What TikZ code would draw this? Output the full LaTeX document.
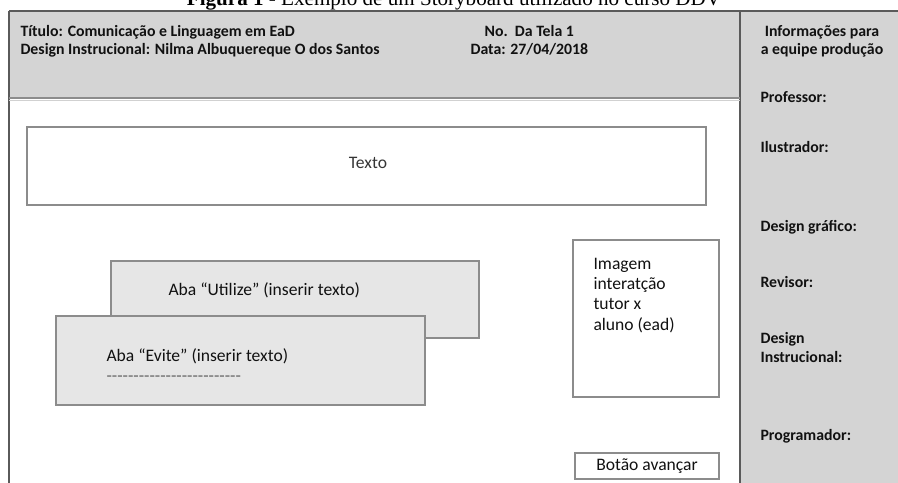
\documentclass[tikz,border=0pt]{standalone}
\usepackage{fontspec}
\setmainfont{Carlito}
\newfontfamily\capfont{Liberation Serif}
\usetikzlibrary{positioning}
\usepackage{xcolor}
\definecolor{panel}{HTML}{D4D4D4}
\definecolor{tabfill}{HTML}{E6E6E6}
\definecolor{edge}{HTML}{8C8C8C}
\definecolor{frame}{HTML}{5A5A5A}
\definecolor{ink}{HTML}{111111}
\newcommand{\Wd}{898}
\newcommand{\Ht}{483}
\newcommand{\Top}{11}
\newcommand{\Hb}{98}
\newcommand{\Col}{740}
\newcommand{\dashrow}{\foreach \k in {1,...,25}{\mbox{-}}}
\tikzset{
  lbl/.style={font=\fontsize{10}{12}\selectfont, inner sep=0pt, text=ink},
  hdr/.style={lbl, font=\fontsize{9}{10.3}\selectfont\bfseries, align=left},
  boxline/.style={draw=edge, line width=0.6pt}
}

\begin{document}
\begin{tikzpicture}[x=0.2mm, y=-0.2mm, line width=0.6pt]
\useasboundingbox (0,0) rectangle (\Wd,\Ht);
\clip (0,0) rectangle (\Wd,\Ht);
% ---- caption, cut at the top edge
\node[anchor=base, inner sep=0pt, font=\capfont\fontsize{12}{14}\selectfont] (cap) at (454,6)
  {\textbf{Figura 1} - Exemplo de um Storyboard utilizado no curso DDV};
% ---- header strip and right column
\fill[panel] (9,\Top) rectangle (\Col,\Hb);
\fill[panel] (\Col,\Top) rectangle (\Wd+5,\Ht+5);
\draw[frame] (9,\Top) -- (\Wd+5,\Top);
\draw[frame] (9,\Top) -- (9,\Ht+5);
\draw[frame] (\Col,\Top) -- (\Col,\Ht+5);
\draw[edge, line width=1.1pt] (9,\Hb) -- (\Col,\Hb);
\draw[edge!40, line width=0.6pt] (9,\Hb+2.5) -- (\Col,\Hb+2.5);
% two-line nodes: the base anchor sits on the last line
\node[hdr, anchor=base west] (title) at (20,55)
  {Título: Comunicação e Linguagem em EaD\\Design Instrucional: Nilma Albuquereque O dos Santos};
\node[hdr, anchor=base west] (tela) at (470,55)
  {\hspace*{8pt}No.\ \ Da Tela 1\\Data: 27/04/2018};
% ---- production team column
\node[hdr, align=center, anchor=base] (info) at (822,55) {Informações para\\a equipe produção};
\node[hdr, anchor=base west] (prof) at (760,103) {Professor:};
\node[hdr, anchor=base west] (ilus) at (760,153) {Ilustrador:};
\node[hdr, anchor=base west] (graf) at (760,231) {Design gráfico:};
\node[hdr, anchor=base west] (rev)  at (760,287) {Revisor:};
\node[hdr, anchor=base west] (di)   at (760,362) {Design\\Instrucional:};
\node[hdr, anchor=base west] (prog) at (760,440) {Programador:};
% ---- screen content
\draw[boxline] (27,127) rectangle (706,205);
\node[lbl, text=ink!85] (texto) at (368,163) {Texto};
\filldraw[boxline, fill=tabfill] (111,261) rectangle (479,338);
\node[lbl, anchor=base west] (utilize) at (168,295) {Aba “Utilize” (inserir texto)};
\filldraw[boxline, fill=tabfill] (56,316) rectangle (425,405);
\node[lbl, anchor=base west] (evite) at (106,361) {Aba “Evite” (inserir texto)};
\node[lbl, anchor=base west, text=ink!65] (risco) at (106,381) {\dashrow};
\draw[boxline] (573,240) rectangle (719,397);
\node[lbl, anchor=base west, align=left, font=\fontsize{10}{11.5}\selectfont] (imagem) at (593,330)
  {Imagem\\interatção\\tutor x\\aluno (ead)};
\draw[boxline] (575,453) rectangle (719,479);
\node[lbl] (botao) at (647,466) {Botão avançar};
\end{tikzpicture}
\end{document}
